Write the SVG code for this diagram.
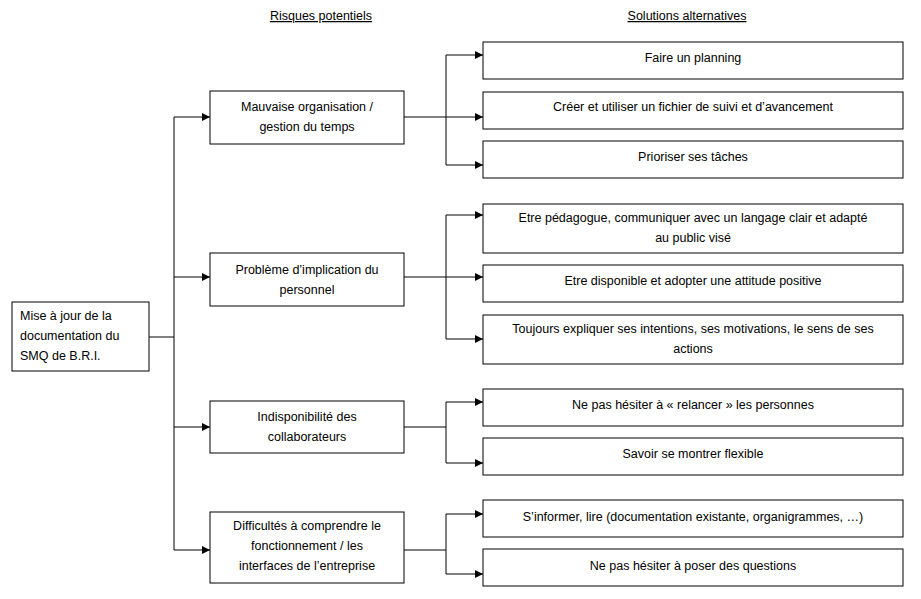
<svg xmlns="http://www.w3.org/2000/svg" width="921" height="599" viewBox="0 0 921 599">
<defs><marker id="a" markerWidth="8" markerHeight="8" refX="8" refY="4" orient="auto" markerUnits="userSpaceOnUse"><path d="M0,0 L8,4 L0,8 z" fill="#000"/></marker></defs>
<style>
rect{fill:#fff;stroke:#000;stroke-width:1}
text{font-family:"Liberation Sans",Arial,sans-serif;font-size:12.5px;fill:#000;text-anchor:middle}
.c line,.c path{stroke:#000;stroke-width:1;fill:none}
.ar{marker-end:url(#a)}
</style>
<rect x="0" y="0" width="921" height="599" style="stroke:none"/>
<text x="321" y="20" text-decoration="underline">Risques potentiels</text>
<text x="687" y="20" text-decoration="underline">Solutions alternatives</text>
<g class="c">
<line x1="149" y1="337" x2="174" y2="337"/>
<line x1="174" y1="117" x2="174" y2="550"/>
<line class="ar" x1="174" y1="117" x2="210" y2="117"/>
<line class="ar" x1="174" y1="277" x2="210" y2="277"/>
<line class="ar" x1="174" y1="427" x2="210" y2="427"/>
<line class="ar" x1="174" y1="550" x2="210" y2="550"/>
<line x1="404" y1="117" x2="446" y2="117"/>
<line x1="446" y1="55" x2="446" y2="165"/>
<line class="ar" x1="446" y1="55" x2="483" y2="55"/>
<line class="ar" x1="446" y1="117" x2="483" y2="117"/>
<line class="ar" x1="446" y1="165" x2="483" y2="165"/>
<line x1="404" y1="277" x2="446" y2="277"/>
<line x1="446" y1="215" x2="446" y2="339"/>
<line class="ar" x1="446" y1="215" x2="483" y2="215"/>
<line class="ar" x1="446" y1="277" x2="483" y2="277"/>
<line class="ar" x1="446" y1="339" x2="483" y2="339"/>
<line x1="404" y1="427" x2="446" y2="427"/>
<line x1="446" y1="402" x2="446" y2="463"/>
<line class="ar" x1="446" y1="402" x2="483" y2="402"/>
<line class="ar" x1="446" y1="463" x2="483" y2="463"/>
<line x1="404" y1="550" x2="446" y2="550"/>
<line x1="446" y1="514" x2="446" y2="574"/>
<line class="ar" x1="446" y1="514" x2="483" y2="514"/>
<line class="ar" x1="446" y1="574" x2="483" y2="574"/>
</g>
<g id="root"><rect x="12" y="302" width="137" height="69"/><text x="20" y="320" style="text-anchor:start">Mise à jour de la</text><text x="20" y="340" style="text-anchor:start">documentation du</text><text x="20" y="360" style="text-anchor:start">SMQ de B.R.I.</text></g>
<g id="r1"><rect x="210" y="91" width="194" height="53"/><text x="307" y="111">Mauvaise organisation /</text><text x="307" y="131">gestion du temps</text></g>
<g id="r2"><rect x="210" y="253" width="194" height="53"/><text x="307" y="274">Problème d’implication du</text><text x="307" y="294">personnel</text></g>
<g id="r3"><rect x="210" y="401" width="194" height="52"/><text x="307" y="421">Indisponibilité des</text><text x="307" y="441">collaborateurs</text></g>
<g id="r4"><rect x="210" y="512" width="194" height="71"/><text x="307" y="530">Difficultés à comprendre le</text><text x="307" y="550">fonctionnement / les</text><text x="307" y="570">interfaces de l’entreprise</text></g>
<g id="s1"><rect x="483" y="42" width="420" height="37"/><text x="693" y="62">Faire un planning</text></g>
<g id="s2"><rect x="483" y="92" width="420" height="37"/><text x="693" y="111">Créer et utiliser un fichier de suivi et d’avancement</text></g>
<g id="s3"><rect x="483" y="141" width="420" height="37"/><text x="693" y="161">Prioriser ses tâches</text></g>
<g id="s4"><rect x="483" y="204" width="420" height="49"/><text x="693" y="222">Etre pédagogue, communiquer avec un langage clair et adapté</text><text x="693" y="242">au public visé</text></g>
<g id="s5"><rect x="483" y="265" width="420" height="37"/><text x="693" y="285">Etre disponible et adopter une attitude positive</text></g>
<g id="s6"><rect x="483" y="315" width="420" height="49"/><text x="693" y="333">Toujours expliquer ses intentions, ses motivations, le sens de ses</text><text x="693" y="353">actions</text></g>
<g id="s7"><rect x="483" y="389" width="420" height="37"/><text x="693" y="409">Ne pas hésiter à « relancer » les personnes</text></g>
<g id="s8"><rect x="483" y="438" width="420" height="37"/><text x="693" y="458">Savoir se montrer flexible</text></g>
<g id="s9"><rect x="483" y="500" width="420" height="37"/><text x="693" y="521">S’informer, lire (documentation existante, organigrammes, …)</text></g>
<g id="s10"><rect x="483" y="549" width="420" height="37"/><text x="693" y="570">Ne pas hésiter à poser des questions</text></g>
</svg>
